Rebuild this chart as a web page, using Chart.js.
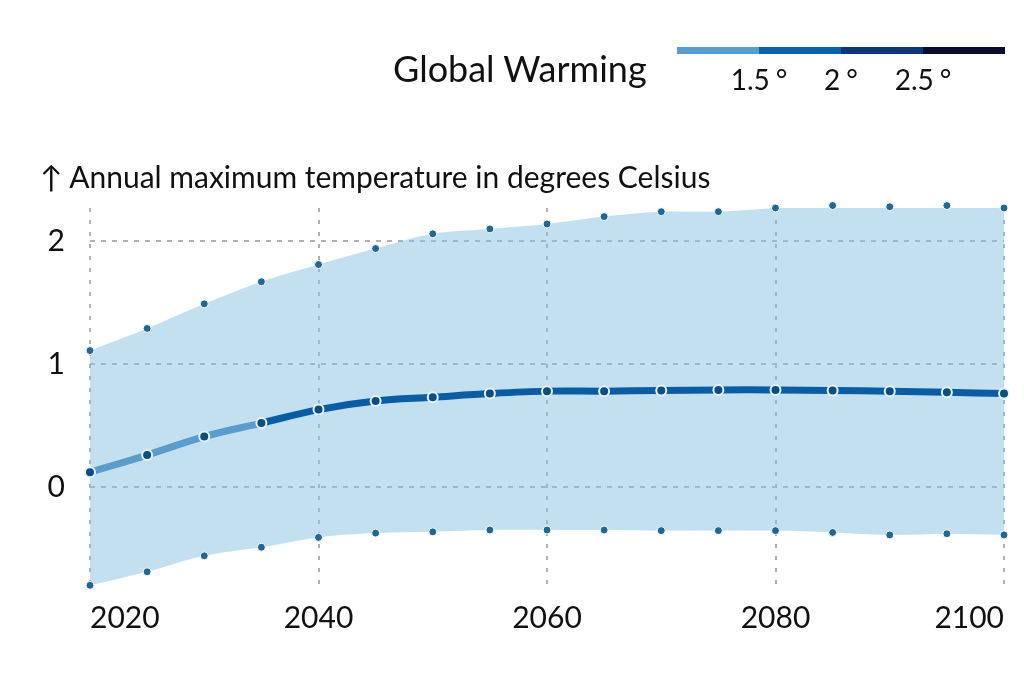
<!DOCTYPE html>
<html>
<head>
<meta charset="utf-8">
<script src="https://cdn.jsdelivr.net/npm/chart.js@4"></script>
<style>
  html, body { margin: 0; padding: 0; background: #ffffff; }
  body { width: 1024px; height: 696px; position: relative; overflow: hidden; font-family: Lato, "Open Sans", sans-serif; color: #111; }
  #wrap { position: absolute; left: 0; top: 0; width: 1024px; height: 696px; }
  .txt { position: absolute; white-space: nowrap; }
  #legTitle { left: 393px; top: 46px; font-size: 36px; }
  #axisTitle { left: 40px; top: 158px; font-size: 30px; }
  .bar { position: absolute; top: 47px; height: 7px; width: 82px; }
  .lab { position: absolute; top: 62px; font-size: 28px; transform: translateX(-50%); }
  .deg { margin-left: 6px; }
</style>
</head>
<body>
<div id="wrap"><canvas id="c" width="1024" height="696"></canvas></div>
<div class="txt" id="legTitle">Global Warming</div>
<div id="legend"></div>
<div class="txt" id="axisTitle">↑ Annual maximum temperature in degrees Celsius</div>
<script>
// ---- data ----
const years = [2020, 2025, 2030, 2035, 2040, 2045, 2050, 2055, 2060, 2065, 2070, 2075, 2080, 2085, 2090, 2095, 2100];
const median = [0.12, 0.26, 0.41, 0.52, 0.63, 0.70, 0.73, 0.76, 0.78, 0.78, 0.785, 0.79, 0.79, 0.785, 0.78, 0.77, 0.76];
const upper = [1.11, 1.29, 1.49, 1.67, 1.81, 1.94, 2.06, 2.10, 2.14, 2.20, 2.24, 2.24, 2.27, 2.29, 2.28, 2.29, 2.27];
const lower = [-0.80, -0.69, -0.56, -0.49, -0.41, -0.375, -0.365, -0.35, -0.35, -0.35, -0.355, -0.355, -0.355, -0.37, -0.39, -0.38, -0.39];
const xTicks = [2020, 2040, 2060, 2080, 2100];
const yTicks = [0, 1, 2];
const legendLevels = ["1.5", "2", "2.5"];
const legendColors = ["#5a9ccc", "#0b62a6", "#0c3676", "#0a0d2e"];
const warmingBreakYear = 2035;

// ---- legend (HTML) ----
const leg = document.getElementById('legend');
legendColors.forEach((c, i) => {
  const d = document.createElement('div');
  d.className = 'bar';
  d.style.left = (677 + i * 82) + 'px';
  d.style.background = c;
  leg.appendChild(d);
});
legendLevels.forEach((t, i) => {
  const d = document.createElement('div');
  d.className = 'lab txt';
  d.style.left = (759 + i * 82) + 'px';
  d.textContent = t;
  const s = document.createElement('span');
  s.className = 'deg';
  s.textContent = '°';
  d.appendChild(s);
  leg.appendChild(d);
});

const pts = arr => years.map((y, i) => ({ x: y, y: arr[i] }));
const bandFill = 'rgba(134,194,226,0.5)';
const bandPoint = '#1f6795';

new Chart(document.getElementById('c'), {
  type: 'line',
  data: {
    datasets: [
      {
        label: 'upper',
        data: pts(upper),
        borderWidth: 0,
        borderColor: 'rgba(0,0,0,0)',
        backgroundColor: bandFill,
        fill: '+1',
        tension: 0.35,
        pointRadius: 4,
        pointBackgroundColor: bandPoint,
        pointBorderColor: '#ffffff',
        pointBorderWidth: 1,
        order: 3
      },
      {
        label: 'lower',
        data: pts(lower),
        borderWidth: 0,
        borderColor: 'rgba(0,0,0,0)',
        backgroundColor: bandFill,
        fill: false,
        tension: 0.35,
        pointRadius: 4,
        pointBackgroundColor: bandPoint,
        pointBorderColor: '#ffffff',
        pointBorderWidth: 1,
        order: 2
      },
      {
        label: 'median',
        data: pts(median),
        borderWidth: 7,
        borderColor: '#0a5da2',
        segment: {
          borderColor: ctx => ctx.p0.parsed.x < warmingBreakYear ? legendColors[0] : '#0a5da2'
        },
        fill: false,
        tension: 0.35,
        borderCapStyle: 'round',
        pointRadius: 5,
        pointBackgroundColor: '#0d4e7e',
        pointBorderColor: '#e6f3fb',
        pointBorderWidth: 2,
        order: 1
      }
    ]
  },
  options: {
    responsive: false,
    animation: false,
    clip: false,
    layout: { padding: { top: 208, right: 20, left: 0, bottom: 0 } },
    plugins: { legend: { display: false }, tooltip: { enabled: false } },
    scales: {
      x: {
        type: 'linear',
        min: 2020,
        max: 2100,
        afterBuildTicks: s => { s.ticks = xTicks.map(v => ({ value: v })); },
        afterFit: s => { s.height = 107; },
        border: { display: false, dash: [4, 8] },
        grid: { color: '#b0b0b0', lineWidth: 2, drawTicks: false },
        ticks: {
          align: 'inner',
          padding: 11,
          color: '#111',
          font: { family: 'Lato', size: 30 },
          callback: v => String(v),
          maxRotation: 0
        }
      },
      y: {
        type: 'linear',
        min: -0.83,
        max: 2.27,
        afterBuildTicks: s => { s.ticks = yTicks.map(v => ({ value: v })); },
        afterFit: s => { s.width = 90; },
        border: { display: false, dash: [5, 6] },
        grid: { color: '#b0b0b0', lineWidth: 2, drawTicks: false },
        ticks: {
          padding: 25,
          color: '#111',
          font: { family: 'Lato', size: 30 },
          callback: v => String(v)
        }
      }
    }
  }
});
</script>
</body>
</html>
